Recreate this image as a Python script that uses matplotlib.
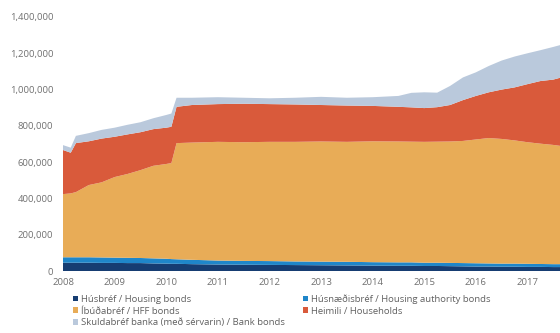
import matplotlib.pyplot as plt
from matplotlib.patches import Patch
from matplotlib.ticker import FuncFormatter

# Ár (aukastafir) og staða útistandandi bréfa, í þús. kr.
years = [2008.0, 2008.15, 2008.25, 2008.5, 2008.75, 2009.0, 2009.25, 2009.5, 2009.75,
         2010.0, 2010.1, 2010.2, 2010.5, 2011.0, 2011.5, 2012.0, 2012.5, 2013.0,
         2013.5, 2014.0, 2014.5, 2014.75, 2015.0, 2015.25, 2015.5, 2015.75, 2016.0,
         2016.25, 2016.5, 2016.75, 2017.0, 2017.25, 2017.5, 2017.63]

husbref = [46, 46, 46, 46, 45, 45, 44, 44, 42,
           41, 40, 40, 38, 36, 35, 34, 33, 32,
           31, 30, 29, 29, 28, 28, 27, 26, 25,
           25, 24, 24, 23, 23, 22, 22]

husnaedisbref = [30, 30, 30, 30, 30, 29, 29, 28, 28,
                 27, 26, 25, 24, 22, 21, 21, 20, 20,
                 20, 19, 19, 19, 18, 18, 18, 18, 18,
                 17, 17, 17, 17, 16, 16, 16]

ibudabref = [348, 352, 359, 398, 414, 444, 462, 484, 510,
             522, 529, 640, 646, 654, 654, 657, 659, 662,
             661, 666, 666, 665, 666, 667, 669, 673, 682,
             691, 687, 679, 670, 663, 657, 652]

heimili = [243, 224, 270, 241, 241, 222, 218, 209, 202,
           200, 200, 200, 207, 208, 212, 208, 206, 201,
           200, 195, 191, 189, 186, 190, 201, 225, 240,
           252, 272, 292, 320, 345, 360, 375]

bankabref = [27, 28, 40, 45, 48, 50, 53, 55, 60,
             70, 73, 50, 40, 38, 33, 32, 37, 45,
             43, 48, 60, 80, 87, 80, 105, 125, 130,
             145, 160, 170, 170, 170, 180, 180]

labels = ['Húsbréf / Housing bonds',
          'Húsnæðisbréf / Housing authority bonds',
          'Íbúðabréf / HFF bonds',
          'Heimili / Households',
          'Skuldabréf banka (með sérvarin) / Bank bonds']
colors = ['#163d72', '#1f86c9', '#e8ac57', '#d95a3b', '#bac9dc']

year_ticks = list(range(2008, 2018))

plt.rcParams['font.family'] = ['Open Sans', 'DejaVu Sans']

fig = plt.figure(figsize=(5.6, 3.33), dpi=100)
ax = fig.add_axes([0.1125, 0.186, 0.8875, 0.763])

series = [husbref, husnaedisbref, ibudabref, heimili, bankabref]
series = [[v * 1000 for v in s] for s in series]
ax.stackplot(years, *series, colors=colors, linewidth=0)

ax.set_xlim(2008, 2017.63)
ax.set_ylim(0, 1400000)
ax.set_yticks(range(0, 1400001, 200000))
ax.yaxis.set_major_formatter(FuncFormatter(lambda v, p: f'{int(v):,}'))
ax.set_xticks(year_ticks)
ax.tick_params(length=0, labelsize=6.8, labelcolor='#707070')
ax.tick_params(axis='y', pad=7)
ax.tick_params(axis='x', pad=5)
for s in ax.spines.values():
    s.set_visible(False)

# dálkar í skýringum: fyrst 3 vinstra megin, svo 2 hægra megin
order = [0, 2, 4, 1, 3]
handles = [Patch(facecolor=colors[i], label=labels[i]) for i in order]
fig.legend(handles=handles, ncol=2, loc='upper left', bbox_to_anchor=(0.13, 0.116),
           frameon=False, fontsize=6.8, handlelength=0.55, handleheight=0.55,
           handletextpad=0.3, labelspacing=0.28, columnspacing=1.9,
           borderaxespad=0, borderpad=0, labelcolor='#606060')

fig.savefig('out.png', dpi=100)
